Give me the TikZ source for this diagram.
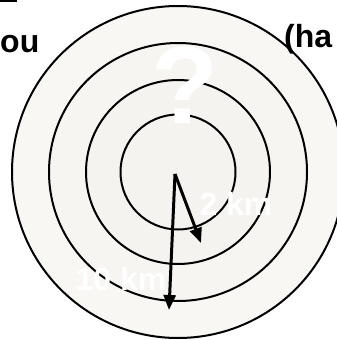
\documentclass[tikz,border=0pt]{standalone}
\usepackage{fontspec}
\setmainfont{Liberation Sans}
\usetikzlibrary{arrows.meta}
\definecolor{ringouter}{HTML}{F8F7F4}
\definecolor{ringmid}{HTML}{F6F5F1}
\definecolor{ringinner}{HTML}{F4F3EF}
\begin{document}
\begin{tikzpicture}[x=1pt,y=-1pt,
  ring/.style={circle, draw=black, line width=2pt, inner sep=0pt},
  lbl/.style={font=\fontsize{32}{32}\selectfont\bfseries, inner sep=0pt},
  arr/.style={line width=3pt, -{Triangle[length=15pt,width=12pt]}}]
\useasboundingbox (0,0) rectangle (337,340);
\clip (0,0) rectangle (337,340);
\fill[white] (0,0) rectangle (337,340);
\coordinate (c) at (178,172);
\node[ring, fill=ringouter, minimum size=332pt] (r4) at (c) {};
\node[ring, fill=ringmid, minimum size=258pt] (r3) at (c) {};
\node[ring, fill=ringinner, minimum size=184pt] (r2) at (c) {};
\node[ring, fill=ringinner, minimum size=115pt] (r1) at (c) {};
\fill[black] (0,0) rectangle (17,2);
\node[lbl, anchor=base west] (you) at (0,52) {ou};
\node[lbl, anchor=base west] (has) at (284,47) {(ha};
\node[font=\fontsize{110}{110}\selectfont\bfseries, text=white, inner sep=0pt, anchor=base] (q) at (185,123) {?};
\node[lbl, text=white, anchor=base] (two) at (236,215) {2 km};
\node[lbl, text=white, anchor=base] (ten) at (121,290) {10 km};
\coordinate (o) at (175,174);
\coordinate (t1) at (169,310);
\coordinate (t2) at (201,243);
\draw[arr] (o) -- (t1);
\draw[arr] (o) -- (t2);
\end{tikzpicture}
\end{document}
